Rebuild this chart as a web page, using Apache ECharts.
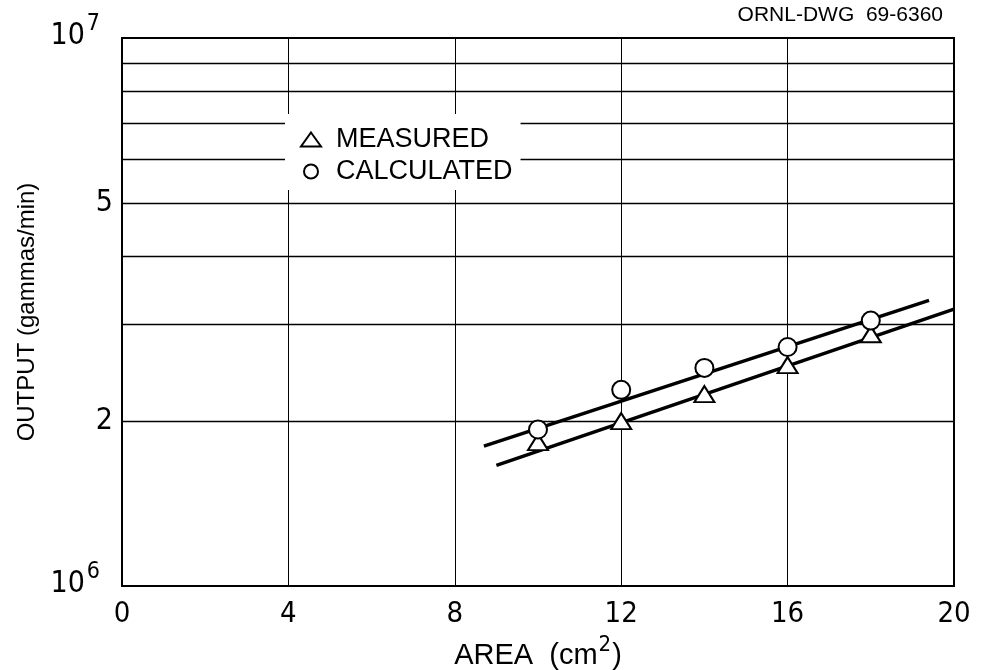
<!DOCTYPE html>
<html>
<head>
<meta charset="utf-8">
<script src="https://cdn.jsdelivr.net/npm/echarts@6/dist/echarts.min.js"></script>
<style>
html,body{margin:0;padding:0;background:#fff;}
#chart{width:984px;height:670px;}
</style>
</head>
<body>
<div id="chart"></div>
<script>
// ---- data ----
var areas = [10, 12, 14, 16, 18];
var measured = [1.83e6, 2.00e6, 2.24e6, 2.53e6, 2.88e6];
var calculated = [1.93e6, 2.28e6, 2.50e6, 2.73e6, 3.05e6];
var calcFitLine = [[8.7, 1.80e6], [19.4, 3.32e6]];
var measFitLine = [[9.0, 1.66e6], [20, 3.20e6]];
var yGridValues = [2e6, 3e6, 4e6, 5e6, 6e6, 7e6, 8e6, 9e6];
var yGridLabels = {2000000: '2', 5000000: '5'};
var xTicks = [0, 4, 8, 12, 16, 20];

var narrow = '"Liberation Sans Narrow","DejaVu Sans Condensed","Liberation Sans",sans-serif';
var sans = '"Liberation Sans","DejaVu Sans",sans-serif';

function pairs(xs, ys) { return xs.map(function (x, i) { return [x, ys[i]]; }); }

var chart = echarts.init(document.getElementById('chart'), null, {renderer: 'canvas'});
var option = {
  backgroundColor: '#fff',
  animation: false,
  grid: {left: 122, right: 30, top: 38, bottom: 84, containLabel: false, outerBoundsMode: 'none',
    show: true, borderColor: '#000', borderWidth: 2, backgroundColor: 'transparent'},
  graphic: [{
    type: 'text', right: 41, top: 5,
    style: {text: 'ORNL-DWG  69-6360', fill: '#000', font: '21px ' + sans}
  }],
  legend: {
    data: ['MEASURED', 'CALCULATED'],
    orient: 'vertical',
    left: 285, top: 114,
    z: 10,
    padding: [12, 8, 5, 15],
    itemGap: 5,
    itemWidth: 20, itemHeight: 14,
    backgroundColor: '#fff',
    textStyle: {color: '#000', fontSize: 27, fontFamily: sans, padding: [0, 0, 0, 10]},
    selectedMode: false
  },
  xAxis: {
    type: 'value', min: 0, max: 20, interval: 4,
    axisLine: {show: true, lineStyle: {color: '#000', width: 2}},
    axisTick: {show: false},
    splitLine: {show: true, lineStyle: {color: '#000', width: 1}},
    axisLabel: {color: '#000', fontSize: 29, fontFamily: narrow, margin: 14,
      customValues: xTicks},
    name: '{a|AREA  (cm}{s|2}{a|)}',
    nameLocation: 'middle', nameGap: 48,
    nameTextStyle: {rich: {
      a: {fontSize: 29, fontFamily: sans, color: '#000', verticalAlign: 'bottom'},
      s: {fontSize: 22, fontFamily: narrow, color: '#000', verticalAlign: 'bottom', padding: [0, 1, 14, 1]}
    }}
  },
  yAxis: {
    type: 'log', logBase: 10, min: 1e6, max: 1e7,
    axisLine: {show: true, lineStyle: {color: '#000', width: 2}},
    axisTick: {show: false},
    splitLine: {show: false},
    axisLabel: {
      color: '#000', margin: 22,
      formatter: function (v) { return v >= 1e7 ? '{b|10}{s|7}' : '{b|10}{s|6}'; },
      rich: {
        b: {fontSize: 30, fontFamily: narrow, color: '#000', verticalAlign: 'bottom', padding: [0, 0, 12, 0]},
        s: {fontSize: 23, fontFamily: narrow, color: '#000', verticalAlign: 'bottom', padding: [0, 0, 28, 2]}
      }
    },
    name: 'OUTPUT (gammas/min)',
    nameLocation: 'middle', nameGap: 80,
    nameTextStyle: {color: '#000', fontSize: 24, fontFamily: sans}
  },
  series: [
    {
      name: 'grid', type: 'line', data: [], silent: true,
      markLine: {
        silent: true, symbol: ['none', 'none'], animation: false,
        lineStyle: {color: '#000', width: 1.3, type: 'solid'},
        label: {show: false},
        emphasis: {disabled: true},
        data: yGridValues.map(function (v) {
          var lbl = yGridLabels[v];
          return {yAxis: v, label: lbl ? {show: true, position: 'start', formatter: lbl, color: '#000', fontSize: 30, fontFamily: narrow, distance: 9} : {show: false}};
        })
      }
    },
    {
      name: 'calcFit', type: 'line', data: calcFitLine, showSymbol: false, symbol: 'none',
      lineStyle: {color: '#000', width: 3.5}, silent: true, z: 3
    },
    {
      name: 'measFit', type: 'line', data: measFitLine, showSymbol: false, symbol: 'none',
      lineStyle: {color: '#000', width: 3.5}, silent: true, z: 3
    },
    {
      name: 'MEASURED', type: 'scatter', data: pairs(areas, measured),
      symbol: 'triangle', symbolSize: [20, 16], z: 5,
      itemStyle: {color: '#fff', borderColor: '#000', borderWidth: 2, opacity: 1}
    },
    {
      name: 'CALCULATED', type: 'scatter', data: pairs(areas, calculated),
      symbol: 'circle', symbolSize: 18, z: 5,
      itemStyle: {color: '#fff', borderColor: '#000', borderWidth: 2, opacity: 1}
    }
  ]
};
chart.setOption(option);
</script>
</body>
</html>
